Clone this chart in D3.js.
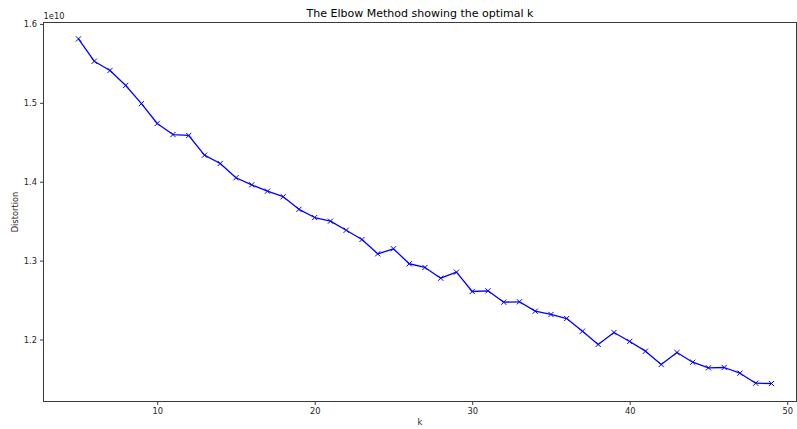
<!DOCTYPE html>
<html>
<head>
<meta charset="utf-8">
<script src="https://cdn.jsdelivr.net/npm/d3@7"></script>
<style>
  html, body { margin: 0; padding: 0; background: #fff; }
  svg { display: block; font-family: "DejaVu Sans", sans-serif; }
</style>
</head>
<body>
<svg id="chart" width="797" height="429"></svg>
<script>
const kValues = [5,6,7,8,9,10,11,12,13,14,15,16,17,18,19,20,21,22,23,24,25,26,27,28,29,30,31,32,33,34,35,36,37,38,39,40,41,42,43,44,45,46,47,48,49];
const distortion = [1.581,1.5527,1.541,1.522,1.499,1.4738,1.4598,1.4586,1.4336,1.4231,1.405,1.396,1.388,1.381,1.365,1.3546,1.350,1.3385,1.3267,1.3086,1.315,1.296,1.2913,1.2777,1.2853,1.2608,1.2617,1.2473,1.2478,1.2359,1.2317,1.2266,1.2105,1.1937,1.2089,1.1975,1.1852,1.1683,1.1835,1.1712,1.1641,1.1645,1.1573,1.1446,1.1442];
const xTicks = [10,20,30,40,50];
const yTicks = [1.2,1.3,1.4,1.5,1.6];
const yTickLabels = ["1.2","1.3","1.4","1.5","1.6"];
const titleText = "The Elbow Method showing the optimal k";
const xLabel = "k";
const yLabel = "Distortion";
const offsetText = "1e10";

const svg = d3.select("#chart");
const L = 43.5, R = 796.5, T = 22.5, B = 401.5;

const x = d3.scaleLinear().domain([2.78, 50.59]).range([L, R]);
const y = d3.scaleLinear().domain([1.1214, 1.6018]).range([B, T]);

const txtColor = "#262626";
const spineColor = "#3a3a3a";

// line
const line = d3.line().x((d,i)=>x(kValues[i])).y(d=>y(d));
svg.append("path")
  .datum(distortion)
  .attr("d", line)
  .attr("fill", "none")
  .attr("stroke", "#0000ff")
  .attr("stroke-width", 1.3)
  .attr("stroke-linejoin", "round");

// x markers
const m = 2.6;
const marks = svg.append("g");
distortion.forEach((d,i) => {
  const cx = x(kValues[i]), cy = y(d);
  marks.append("path")
    .attr("d", `M${cx-m},${cy-m}L${cx+m},${cy+m}M${cx-m},${cy+m}L${cx+m},${cy-m}`)
    .attr("stroke", "#0000ff")
    .attr("stroke-width", 1)
    .attr("fill", "none");
});

// spines
svg.append("rect")
  .attr("x", L).attr("y", T)
  .attr("width", R - L).attr("height", B - T)
  .attr("fill", "none")
  .attr("stroke", spineColor)
  .attr("stroke-width", 1);

// x axis
const xAxis = d3.axisBottom(x).tickValues(xTicks).tickSize(3.5).tickPadding(3).tickFormat(d3.format("d"));
const gx = svg.append("g").attr("transform", `translate(0,${B})`).call(xAxis);
gx.select(".domain").remove();
gx.selectAll("line").attr("stroke", spineColor);
gx.selectAll("text").attr("fill", txtColor).style("font-size", "8.3px").style("font-family", "DejaVu Sans");

// y axis
const yAxis = d3.axisLeft(y).tickValues(yTicks).tickSize(3.5).tickPadding(3).tickFormat((d,i)=>yTickLabels[i]);
const gy = svg.append("g").attr("transform", `translate(${L},0)`).call(yAxis);
gy.select(".domain").remove();
gy.selectAll("line").attr("stroke", spineColor);
gy.selectAll("text").attr("fill", txtColor).style("font-size", "8.3px").style("font-family", "DejaVu Sans");

// offset text
svg.append("text").attr("x", L).attr("y", 19)
  .attr("fill", txtColor).style("font-size", "8.3px").text(offsetText);

// title
svg.append("text").attr("x", (L+R)/2).attr("y", 17)
  .attr("text-anchor", "middle").attr("fill", "#000")
  .style("font-size", "11px").text(titleText);

// x label
svg.append("text").attr("x", (L+R)/2).attr("y", 425)
  .attr("text-anchor", "middle").attr("fill", txtColor)
  .style("font-size", "8.3px").text(xLabel);

// y label
svg.append("text")
  .attr("transform", `translate(18,${(T+B)/2}) rotate(-90)`)
  .attr("text-anchor", "middle").attr("fill", txtColor)
  .style("font-size", "8.3px").text(yLabel);
</script>
</body>
</html>
